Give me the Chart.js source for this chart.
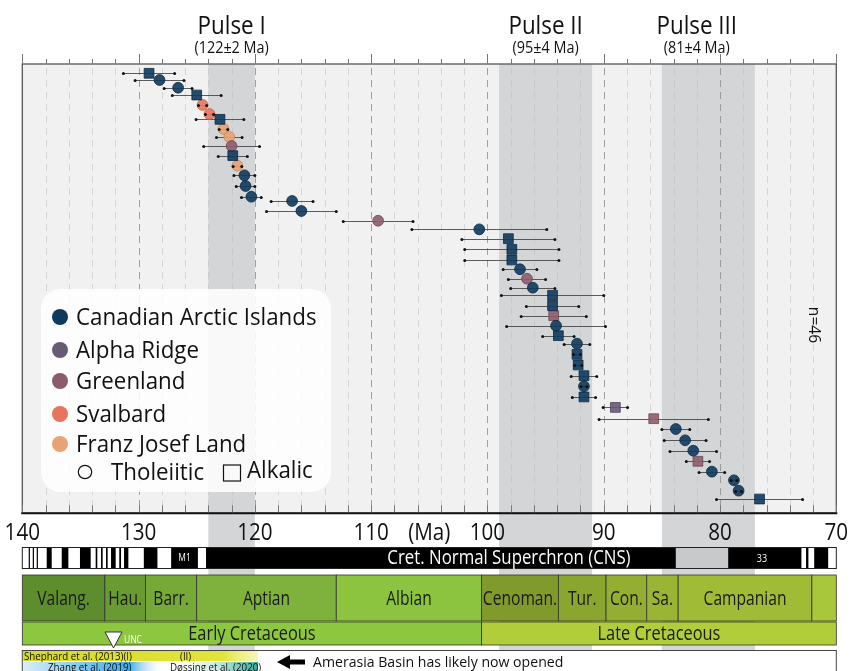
<!DOCTYPE html>
<html><head><meta charset="utf-8">
<script src="https://cdn.jsdelivr.net/npm/chart.js@4.4.1/dist/chart.umd.min.js"></script>
<style>html,body{margin:0;padding:0;background:#fff;overflow:hidden}#wrap{width:851px;height:671px;position:relative}</style>
</head><body><div id="wrap"><canvas id="c" width="851" height="671"></canvas></div>
<script>
// Dated HALIP samples: age (Ma), age uncertainty (Ma), plotting row, region index, rock type
const ages = [129.1,128.2,126.6,125.0,124.5,123.9,123.0,122.7,122.2,122.0,121.9,121.5,120.9,120.8,120.3,116.8,116.0,109.4,100.7,98.2,97.9,97.9,97.2,96.6,96.1,94.4,94.4,94.3,94.1,93.9,92.3,92.3,92.2,91.7,91.7,91.7,89.0,85.7,83.8,83.0,82.3,81.9,80.7,78.8,78.4,76.6];
const ageErrors = [2.2,2.1,1.2,2.1,0.35,0.35,2.05,0.37,1.1,2.4,1.25,0.37,0.9,0.8,0.85,1.8,3.0,3.0,5.8,4.0,4.05,4.05,1.45,1.6,1.9,4.4,2.25,2.8,4.25,1.35,1.1,0.3,0.3,1.1,0.25,1.0,1.05,4.7,1.2,1.8,2.0,1.0,1.1,0.25,0.25,3.7];
const rows = [0.98,1.69,2.51,3.28,4.33,5.29,5.85,6.87,7.72,8.67,9.69,10.75,11.77,12.9,14.03,14.48,15.54,16.57,17.48,18.47,19.59,20.72,21.7,22.7,23.65,24.45,25.55,26.61,27.67,28.72,29.57,30.69,31.82,32.95,34.07,35.2,36.31,37.5,38.59,39.78,40.88,42.0,43.1,44.01,45.11,45.99];
const regions = [0,0,0,0,3,3,0,4,4,2,0,4,0,0,0,0,0,2,0,0,0,0,0,2,0,0,0,2,0,0,0,0,0,0,0,0,1,2,0,0,0,2,0,0,0,0];
const rockTypes = ['A','T','T','A','T','T','A','T','T','T','A','T','T','T','T','T','T','T','T','A','A','A','T','T','T','A','A','A','T','A','T','A','A','A','T','A','A','A','T','T','T','A','T','T','T','A'];

const regionNames = ['Canadian Arctic Islands','Alpha Ridge','Greenland','Svalbard','Franz Josef Land'];
const regionColors = ['#0f3a5e','#675a74','#8d5c6b','#e8745c','#e9a273'];
const regionEdges = ['#0a2843','#4f4459','#6e4452','#c95a44','#c98458'];

// Magmatic pulses: centre and half-width (Ma)
const pulseNames = ['Pulse I','Pulse II','Pulse III'];
const pulseAges = ['(122±2 Ma)','(95±4 Ma)','(81±4 Ma)'];
const pulseCentres = [122,95,81];
const pulseHalfWidths = [2,4,4];
const pulseLabelAt = [122,95,82];

const axisLabels = [140,130,120,110,100,90,80,70];

// Geological time scale (Ma)
const stageNames = ['Valang.','Hau.','Barr.','Aptian','Albian','Cenoman.','Tur.','Con.','Sa.','Campanian',''];
const stageBounds = [140,132.9,129.4,125.0,113.0,100.5,93.9,89.8,86.3,83.6,72.1,70];
const stageColors = ['#5e8d2e','#6a9b33','#76a938','#7eb23c','#8cc43f','#809b2b','#8ba62f','#93ae31','#9ab534','#a0bc37','#a9c73b'];
const periodNames = ['Early Cretaceous','Late Cretaceous'];
const periodBounds = [140,100.5,70];
const periodColors = ['#8dc63f','#b1cd3a'];

// Geomagnetic polarity: normal-polarity intervals [older, younger] (Ma)
const normalChrons = [[139.45,139.35],[139.1,139.0],[138.76,138.66],[137.9,137.47],[136.61,136.04],[135.04,134.12],[133.69,133.55],[133.23,133.09],[132.8,132.66],[132.37,131.97],[131.66,131.51],[131.25,130.88],[129.55,128.38],[127.2,124.9],[124.2,83.8],[79.3,73.0],[72.6,72.4],[71.9,70.7]];
const greyChron = [83.8,79.3];

const SANS = '"Open Sans", Lato, "DejaVu Sans", sans-serif';

function txt(ctx, s, x, y, o) {
  ctx.save();
  ctx.font = (o.weight || 'normal') + ' ' + o.size + 'px ' + (o.family || SANS);
  ctx.fillStyle = o.color || '#111';
  ctx.textAlign = o.align || 'center';
  ctx.textBaseline = o.baseline || 'middle';
  ctx.translate(x, y);
  if (o.rotate) ctx.rotate(o.rotate);
  ctx.scale(o.sx || 1, 1);
  ctx.fillText(s, 0, 0);
  ctx.restore();
}

function roundRect(ctx, x, y, w, h, r) {
  ctx.beginPath();
  ctx.moveTo(x + r, y);
  ctx.arcTo(x + w, y, x + w, y + h, r);
  ctx.arcTo(x + w, y + h, x, y + h, r);
  ctx.arcTo(x, y + h, x, y, r);
  ctx.arcTo(x, y, x + w, y, r);
  ctx.closePath();
}

function hexA(hex, a) {
  const n = parseInt(hex.slice(1), 16);
  return 'rgba(' + (n >> 16) + ',' + ((n >> 8) & 255) + ',' + (n & 255) + ',' + a + ')';
}

const datasets = regionNames.map((name, r) => {
  const idx = ages.map((_, i) => i).filter(i => regions[i] === r);
  return {
    label: name,
    data: idx.map(i => ({ x: ages[i], y: rows[i], e: ageErrors[i] })),
    pointStyle: idx.map(i => rockTypes[i] === 'A' ? 'rect' : 'circle'),
    pointRadius: idx.map(i => rockTypes[i] === 'A' ? 6.9 : 5.4),
    backgroundColor: hexA(regionColors[r], 0.9),
    borderColor: regionEdges[r],
    borderWidth: 0.8,
    showLine: false
  };
});

const BAND_BOTTOM = 650;

const decor = {
  id: 'decor',
  beforeDraw(chart) {
    const { ctx, chartArea: a, scales: { x } } = chart;
    ctx.save();
    ctx.fillStyle = '#f1f1f1';
    ctx.fillRect(a.left, a.top, a.right - a.left, a.bottom - a.top);
    // pulse bands, carried down through the time scale
    ctx.fillStyle = '#d4d5d7';
    pulseCentres.forEach((c, k) => {
      const x0 = x.getPixelForValue(c + pulseHalfWidths[k]);
      const x1 = x.getPixelForValue(c - pulseHalfWidths[k]);
      ctx.fillRect(x0, a.top, x1 - x0, BAND_BOTTOM - a.top);
    });
    // dashed grid every 2 Ma, stronger every 10 Ma
    for (let v = 138; v > 70; v -= 2) {
      const px = Math.round(x.getPixelForValue(v)) + 0.5;
      const major = v % 10 === 0;
      ctx.strokeStyle = major ? 'rgba(140,140,140,0.8)' : 'rgba(190,190,190,0.55)';
      ctx.lineWidth = 1;
      ctx.setLineDash([7, 5]);
      ctx.beginPath();
      ctx.moveTo(px, a.top + 4);
      ctx.lineTo(px, a.bottom - 2);
      ctx.stroke();
    }
    ctx.setLineDash([]);
    ctx.restore();
  },
  beforeDatasetsDraw(chart) {
    const { ctx, scales: { x, y } } = chart;
    ctx.save();
    ctx.strokeStyle = 'rgba(55,55,55,0.8)';
    ctx.lineWidth = 1;
    ages.forEach((t, i) => {
      const py = Math.round(y.getPixelForValue(rows[i])) + 0.5;
      ctx.beginPath();
      ctx.moveTo(x.getPixelForValue(t + ageErrors[i]), py);
      ctx.lineTo(x.getPixelForValue(t - ageErrors[i]), py);
      ctx.stroke();
    });
    ctx.restore();
  },
  afterDatasetsDraw(chart) {
    const { ctx, chartArea: a, scales: { x, y } } = chart;
    const X = v => x.getPixelForValue(v);
    ctx.save();
    // error-bar end caps
    ctx.fillStyle = '#111';
    ages.forEach((t, i) => {
      const py = Math.round(y.getPixelForValue(rows[i])) + 0.5;
      [t + ageErrors[i], t - ageErrors[i]].forEach(v => {
        ctx.beginPath();
        ctx.arc(X(v), py, 1.5, 0, Math.PI * 2);
        ctx.fill();
      });
    });

    // frame
    ctx.strokeStyle = '#555';
    ctx.lineWidth = 1.3;
    ctx.strokeRect(a.left, a.top, a.right - a.left, a.bottom - a.top);
    ctx.strokeStyle = '#111';
    ctx.lineWidth = 2;
    ctx.beginPath();
    ctx.moveTo(a.left - 1, a.bottom);
    ctx.lineTo(a.right + 1, a.bottom);
    ctx.stroke();

    // ticks: outside on top, inside at the bottom
    ctx.strokeStyle = '#777';
    ctx.lineWidth = 1;
    for (let v = 140; v >= 70; v -= 2) {
      const px = Math.round(X(v)) + 0.5;
      const major = v % 10 === 0;
      ctx.beginPath();
      ctx.moveTo(px, a.top);
      ctx.lineTo(px, a.top - (major ? 10 : 5));
      ctx.moveTo(px, a.bottom - 1);
      ctx.lineTo(px, a.bottom - 8);
      ctx.stroke();
    }

    // pulse titles
    pulseNames.forEach((n, k) => {
      const px = X(pulseLabelAt[k]);
      txt(ctx, n, px, 27, { size: 26, sx: 0.86 });
      txt(ctx, pulseAges[k], px, 48, { size: 16, sx: 0.9 });
    });

    // sample count
    txt(ctx, 'n=46', 814, 325, { size: 17, sx: 0.92, rotate: Math.PI / 2 });

    // legend
    ctx.fillStyle = 'rgba(255,255,255,0.86)';
    roundRect(ctx, 41, 289, 290, 203, 20);
    ctx.fill();
    const ly = [317, 350, 381, 414, 444];
    regionNames.forEach((n, r) => {
      ctx.fillStyle = regionColors[r];
      ctx.beginPath();
      ctx.arc(60, ly[r], 8, 0, Math.PI * 2);
      ctx.fill();
      txt(ctx, n, 76, ly[r] + 1, { size: 23, align: 'left', sx: 0.97 });
    });
    ctx.strokeStyle = '#111';
    ctx.lineWidth = 1.2;
    ctx.beginPath();
    ctx.arc(85, 472, 6.7, 0, Math.PI * 2);
    ctx.stroke();
    txt(ctx, 'Tholeiitic', 111, 473, { size: 23, align: 'left', sx: 0.97 });
    ctx.strokeRect(223.5, 465, 17, 16);
    txt(ctx, 'Alkalic', 247, 471, { size: 23, align: 'left', sx: 0.97 });

    // axis labels
    axisLabels.forEach(v => {
      txt(ctx, String(v), X(v), 533, { size: 24, sx: 0.86 });
    });
    txt(ctx, '(Ma)', X(105), 533, { size: 24, sx: 0.86 });

    // polarity bar
    const pTop = 547, pH = 22;
    ctx.fillStyle = '#fff';
    ctx.fillRect(X(140), pTop, X(70) - X(140), pH);
    ctx.fillStyle = '#c8c9cb';
    ctx.fillRect(X(greyChron[0]), pTop, X(greyChron[1]) - X(greyChron[0]), pH);
    ctx.fillStyle = '#000';
    normalChrons.forEach(([o, yg]) => {
      ctx.fillRect(X(o), pTop, Math.max(1.2, X(yg) - X(o)), pH);
    });
    ctx.strokeStyle = '#222';
    ctx.lineWidth = 1;
    ctx.strokeRect(X(140), pTop + 0.5, X(70) - X(140), pH - 1);
    txt(ctx, 'M1', X(126.05), pTop + 11.5, { size: 10, color: '#fff', sx: 0.85 });
    txt(ctx, 'Cret. Normal Superchron (CNS)', X(98.15), pTop + 11.5, { size: 20, color: '#fff', sx: 0.84 });
    txt(ctx, '33', X(76.4), pTop + 12, { size: 10, color: '#fff', sx: 0.9 });

    // stages
    const sTop = 575, sH = 46;
    stageNames.forEach((n, k) => {
      const x0 = X(stageBounds[k]), x1 = X(stageBounds[k + 1]);
      ctx.fillStyle = stageColors[k];
      ctx.fillRect(x0, sTop, x1 - x0, sH);
      ctx.strokeStyle = '#333';
      ctx.lineWidth = 0.8;
      ctx.strokeRect(x0, sTop, x1 - x0, sH);
      if (n) txt(ctx, n, (x0 + x1) / 2, sTop + sH / 2 + 1, { size: 19.5, color: '#1a1a1a', sx: 0.8 });
    });
    // periods
    const qTop = 622, qH = 23;
    periodNames.forEach((n, k) => {
      const x0 = X(periodBounds[k]), x1 = X(periodBounds[k + 1]);
      ctx.fillStyle = periodColors[k];
      ctx.fillRect(x0, qTop, x1 - x0, qH);
      ctx.strokeStyle = '#333';
      ctx.lineWidth = 0.8;
      ctx.strokeRect(x0, qTop, x1 - x0, qH);
      txt(ctx, n, (x0 + x1) / 2, qTop + qH / 2 + 1, { size: 19.5, color: '#1a1a1a', sx: 0.84 });
    });
    // UNC marker
    ctx.fillStyle = '#fff';
    ctx.strokeStyle = '#333';
    ctx.lineWidth = 1;
    ctx.beginPath();
    ctx.moveTo(105, 632);
    ctx.lineTo(122, 632);
    ctx.lineTo(113.5, 648);
    ctx.closePath();
    ctx.fill();
    ctx.stroke();
    txt(ctx, 'UNC', 124, 640, { size: 10, color: '#fff', align: 'left', sx: 0.85 });

    // basin-opening models
    ctx.fillStyle = '#fff';
    ctx.fillRect(X(140), 650, X(70) - X(140), 30);
    ctx.strokeStyle = '#444';
    ctx.strokeRect(X(140), 650.5, X(70) - X(140), 30);
    let g = ctx.createLinearGradient(23, 0, 258, 0);
    g.addColorStop(0, '#d6da2b');
    g.addColorStop(0.85, '#e2e437');
    g.addColorStop(1, 'rgba(236,238,120,0.5)');
    ctx.fillStyle = g;
    ctx.fillRect(23, 651, 235, 10);
    txt(ctx, 'Shephard et al. (2013)(I)', 24, 656.5, { size: 11.5, align: 'left', sx: 0.85 });
    txt(ctx, '(II)', 180, 656.5, { size: 11.5, align: 'left', sx: 0.85 });
    g = ctx.createLinearGradient(23, 0, 165, 0);
    g.addColorStop(0, '#d8eefb');
    g.addColorStop(0.75, '#3fa9e5');
    g.addColorStop(1, 'rgba(255,255,255,0)');
    ctx.fillStyle = g;
    ctx.fillRect(23, 662, 142, 10);
    g = ctx.createLinearGradient(165, 0, 258, 0);
    g.addColorStop(0, 'rgba(255,255,255,0)');
    g.addColorStop(0.6, '#bfe6dd');
    g.addColorStop(1, '#33b0a0');
    ctx.fillStyle = g;
    ctx.fillRect(165, 662, 93, 10);
    txt(ctx, 'Zhang et al. (2019)', 48, 668, { size: 11.5, align: 'left', sx: 0.85 });
    txt(ctx, 'Døssing et al. (2020)', 170, 668, { size: 11.5, align: 'left', sx: 0.85 });
    // arrow
    ctx.fillStyle = '#000';
    ctx.beginPath();
    ctx.moveTo(277, 662);
    ctx.lineTo(290, 655);
    ctx.lineTo(290, 659.5);
    ctx.lineTo(305, 659.5);
    ctx.lineTo(305, 664.5);
    ctx.lineTo(290, 664.5);
    ctx.lineTo(290, 669);
    ctx.closePath();
    ctx.fill();
    txt(ctx, 'Amerasia Basin has likely now opened', 313, 662.5, { size: 15, align: 'left', sx: 0.94 });
    ctx.restore();
  }
};

new Chart(document.getElementById('c'), {
  type: 'scatter',
  data: { datasets },
  options: {
    responsive: false,
    animation: false,
    devicePixelRatio: 1,
    events: [],
    layout: { padding: { left: 22.3, right: 14.7, top: 64, bottom: 157.7 } },
    plugins: { legend: { display: false }, tooltip: { enabled: false } },
    scales: {
      x: { type: 'linear', min: 70, max: 140, reverse: true, display: false },
      y: { type: 'linear', min: 0, max: 47.5, reverse: true, display: false }
    }
  },
  plugins: [decor]
});
</script>
</body></html>
